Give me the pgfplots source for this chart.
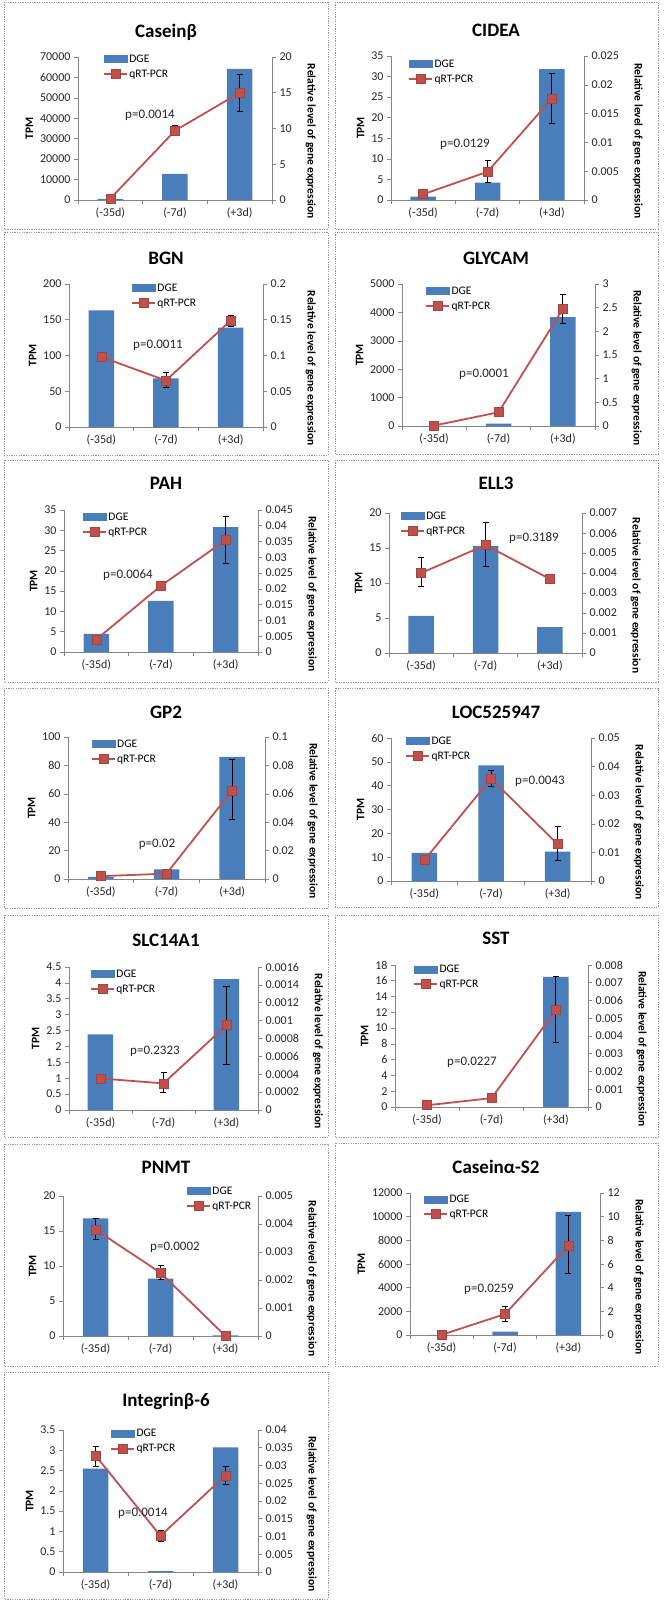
\documentclass[border=0pt]{standalone}
\usepackage{fontspec}
\setmainfont{Carlito}
\usepackage{pgfplots}
\pgfplotsset{compat=1.18}
\definecolor{barblue}{RGB}{74,126,187}
\definecolor{linered}{RGB}{192,80,77}
\definecolor{axisgray}{RGB}{134,134,134}
\definecolor{boxgray}{RGB}{150,150,150}

\pgfplotsset{
  panel/.style={scale only axis, anchor=south west, xmin=-0.5, xmax=2.5, ymin=0, clip=false,
    axis line style={axisgray, line width=0.6pt},
    tick style={axisgray, line width=0.6pt},
    tick align=outside, major tick length=4pt, minor tick length=4pt,
    tick label style={font=\fontsize{12}{14}\selectfont, text=black!85},
    scaled y ticks=false,
    yticklabel style={/pgf/number format/fixed, /pgf/number format/precision=4, /pgf/number format/1000 sep={}, /pgf/number format/assume math mode=true},
    label style={font=\fontsize{11.5}{13}\selectfont\bfseries, text=black},
  },
  barax/.style={panel, axis x line*=bottom, axis y line*=left,
    xtick={0,1,2}, xticklabels={(-35d),(-7d),(+3d)}, major x tick style={draw=none},
    minor xtick={-0.5,0.5,1.5,2.5},
    ylabel={TPM}},
  lineax/.style={panel, axis x line=none, axis y line*=right,
    ylabel={Relative level of gene expression},
    ylabel style={rotate=180, anchor=south, at={(ticklabel cs:0.41,7pt)}},
    legend cell align=left,
    legend style={draw=none, fill=none, anchor=north west, font=\fontsize{11.5}{13}\selectfont, nodes={inner sep=1.5pt}, row sep=3pt},
    legend image code/.code={\draw[mark repeat=2,mark phase=2,##1] plot coordinates {(0pt,0pt) (11.5pt,0pt) (23pt,0pt)};}},
  bars/.style={ybar, bar width=25.5pt, fill=barblue, draw=none},
  qline/.style={color=linered, line width=1.8pt, mark=square*, mark size=4.5pt, mark options={fill=linered, draw=linered!85!black, line width=0.6pt}},
  errs/.style={draw=none, mark=none, forget plot, error bars/.cd, y dir=both, y explicit, error bar style={draw=black, line width=0.8pt}, error mark options={rotate=90, draw=black, line width=0.8pt, mark size=3pt}},
  barleg/.style={legend image code/.code={\fill[barblue] (0pt,-3.5pt) rectangle (23pt,3.5pt);}},
}
\tikzset{
  ptitle/.style={font=\fontsize{19}{22}\selectfont\bfseries},
  pboxline/.style={boxgray, line width=0.6pt, dash pattern=on 1.2pt off 1.2pt},
}
\newcommand{\pbox}[7]{\draw[pboxline] (#1pt,-#2pt) rectangle (#3pt,-#4pt);\node[ptitle] at (#5pt,-#6pt) {#7};}
\newcommand{\pval}[3]{\node[font=\fontsize{13}{15}\selectfont, text=black!85] at (#1pt,-#2pt) {#3};}

\begin{document}
\begin{tikzpicture}
\useasboundingbox (0pt,0pt) rectangle (664pt,-1601pt);

% 1 Casein beta
\pbox{4}{2}{328}{229}{166}{32}{Caseinβ}
\begin{axis}[barax, at={(78pt,-200pt)}, width=194pt, height=143pt, ymax=70000, ytick={0,10000,20000,30000,40000,50000,60000,70000}]
\addplot[bars] coordinates {(0,600) (1,12800) (2,64200)};
\end{axis}
\begin{axis}[lineax, at={(78pt,-200pt)}, width=194pt, height=143pt, ymax=20, ytick={0,5,10,15,20}, legend style={at={(0.113,1.042)}}]
\addlegendimage{barleg}\addlegendentry{DGE}
\addplot[errs] coordinates {(1,9.7) += (0,0.7) -= (0,0.7) (2,15.0) += (0,2.5) -= (0,2.6)};
\addplot[qline] coordinates {(0,0.2) (1,9.7) (2,15.0)};
\addlegendentry{qRT-PCR}
\end{axis}
\pval{150}{115}{p=0.0014}

% 2 CIDEA
\pbox{335}{2}{658}{229}{496}{30}{CIDEA}
\begin{axis}[barax, at={(391pt,-200pt)}, width=193pt, height=144pt, ymax=35, ytick={0,5,10,15,20,25,30,35}]
\addplot[bars] coordinates {(0,0.8) (1,4.2) (2,31.8)};
\end{axis}
\begin{axis}[lineax, at={(391pt,-200pt)}, width=193pt, height=144pt, ymax=0.025, ytick={0,0.005,0.01,0.015,0.02,0.025}, legend style={at={(0.073,1.0)}}]
\addlegendimage{barleg}\addlegendentry{DGE}
\addplot[errs] coordinates {(1,0.0049) += (0,0.002) -= (0,0.0018) (2,0.0176) += (0,0.0043) -= (0,0.0043)};
\addplot[qline] coordinates {(0,0.001) (1,0.0049) (2,0.0176)};
\addlegendentry{qRT-PCR}
\end{axis}
\pval{465}{144}{p=0.0129}

% 3 BGN
\pbox{4}{232}{328}{455}{166}{258}{BGN}
\begin{axis}[barax, at={(69pt,-427pt)}, width=194pt, height=143pt, ymax=200, ytick={0,50,100,150,200}]
\addplot[bars] coordinates {(0,163) (1,68) (2,139)};
\end{axis}
\begin{axis}[lineax, at={(69pt,-427pt)}, width=194pt, height=143pt, ymax=0.2, ytick={0,0.05,0.1,0.15,0.2}, legend style={at={(0.304,1.028)}}]
\addlegendimage{barleg}\addlegendentry{DGE}
\addplot[errs] coordinates {(1,0.065) += (0,0.011) -= (0,0.009) (2,0.149) += (0,0.007) -= (0,0.008)};
\addplot[qline] coordinates {(0,0.098) (1,0.065) (2,0.149)};
\addlegendentry{qRT-PCR}
\end{axis}
\pval{158}{345}{p=0.0011}

% 4 GLYCAM
\pbox{335}{232}{658}{454}{496}{258}{GLYCAM}
\begin{axis}[barax, at={(402pt,-426pt)}, width=193pt, height=142pt, ymax=5000, ytick={0,1000,2000,3000,4000,5000}]
\addplot[bars] coordinates {(0,2) (1,80) (2,3830)};
\end{axis}
\begin{axis}[lineax, at={(402pt,-426pt)}, width=193pt, height=142pt, ymax=3, ytick={0,0.5,1,1.5,2,2.5,3}, legend style={at={(0.104,1.007)}}]
\addlegendimage{barleg}\addlegendentry{DGE}
\addplot[errs] coordinates {(2,2.47) += (0,0.32) -= (0,0.30)};
\addplot[qline] coordinates {(0,0.01) (1,0.29) (2,2.47)};
\addlegendentry{qRT-PCR}
\end{axis}
\pval{484}{374}{p=0.0001}

% 5 PAH
\pbox{4}{460}{328}{682}{166}{483}{PAH}
\begin{axis}[barax, at={(64pt,-652pt)}, width=194pt, height=142pt, ymax=35, ytick={0,5,10,15,20,25,30,35}]
\addplot[bars] coordinates {(0,4.5) (1,12.6) (2,30.8)};
\end{axis}
\begin{axis}[lineax, at={(64pt,-652pt)}, width=194pt, height=142pt, ymax=0.045, ytick={0,0.005,0.01,0.015,0.02,0.025,0.03,0.035,0.04,0.045}, legend style={at={(0.077,1.007)}}]
\addlegendimage{barleg}\addlegendentry{DGE}
\addplot[errs] coordinates {(2,0.0355) += (0,0.0074) -= (0,0.0075)};
\addplot[qline] coordinates {(0,0.004) (1,0.021) (2,0.0355)};
\addlegendentry{qRT-PCR}
\end{axis}
\pval{128}{575}{p=0.0064}

% 6 ELL3
\pbox{335}{460}{658}{682}{496}{483}{ELL3}
\begin{axis}[barax, at={(389pt,-653pt)}, width=193pt, height=140pt, ymax=20, ytick={0,5,10,15,20}]
\addplot[bars] coordinates {(0,5.3) (1,15.3) (2,3.7)};
\end{axis}
\begin{axis}[lineax, at={(389pt,-653pt)}, width=193pt, height=140pt, ymax=0.007, ytick={0,0.001,0.002,0.003,0.004,0.005,0.006,0.007}, legend style={at={(0.041,1.036)}}]
\addlegendimage{barleg}\addlegendentry{DGE}
\addplot[errs] coordinates {(0,0.004) += (0,0.0008) -= (0,0.00067) (1,0.0054) += (0,0.00113) -= (0,0.00109)};
\addplot[qline] coordinates {(0,0.004) (1,0.0054) (2,0.0037)};
\addlegendentry{qRT-PCR}
\end{axis}
\pval{534}{538}{p=0.3189}

% 7 GP2
\pbox{4}{688}{328}{908}{166}{712}{GP2}
\begin{axis}[barax, at={(68pt,-879pt)}, width=197pt, height=142pt, ymax=100, ytick={0,20,40,60,80,100}]
\addplot[bars] coordinates {(0,1.5) (1,6.8) (2,86)};
\end{axis}
\begin{axis}[lineax, at={(68pt,-879pt)}, width=197pt, height=142pt, ymax=0.1, ytick={0,0.02,0.04,0.06,0.08,0.1}, legend style={at={(0.10,1.007)}}]
\addlegendimage{barleg}\addlegendentry{DGE}
\addplot[errs] coordinates {(2,0.0624) += (0,0.0221) -= (0,0.0206)};
\addplot[qline] coordinates {(0,0.002) (1,0.0038) (2,0.0624)};
\addlegendentry{qRT-PCR}
\end{axis}
\pval{157}{844}{p=0.02}

% 8 LOC525947
\pbox{335}{688}{658}{907}{496}{712}{LOC525947}
\begin{axis}[barax, at={(391pt,-881pt)}, width=200pt, height=143pt, ymax=60, ytick={0,10,20,30,40,50,60}]
\addplot[bars] coordinates {(0,11.8) (1,48.5) (2,12.3)};
\end{axis}
\begin{axis}[lineax, at={(391pt,-881pt)}, width=200pt, height=143pt, ymax=0.05, ytick={0,0.01,0.02,0.03,0.04,0.05}, legend style={at={(0.055,1.035)}}]
\addlegendimage{barleg}\addlegendentry{DGE}
\addplot[errs] coordinates {(1,0.0358) += (0,0.003) -= (0,0.0027) (2,0.0129) += (0,0.0061) -= (0,0.0058)};
\addplot[qline] coordinates {(0,0.0073) (1,0.0358) (2,0.0129)};
\addlegendentry{qRT-PCR}
\end{axis}
\pval{540}{781}{p=0.0043}

% 9 SLC14A1
\pbox{4}{915}{328}{1137}{166}{940}{SLC14A1}
\begin{axis}[barax, at={(69pt,-1110pt)}, width=189pt, height=143pt, ymax=4.5, ytick={0,0.5,1,1.5,2,2.5,3,3.5,4,4.5}]
\addplot[bars] coordinates {(0,2.38) (1,0) (2,4.12)};
\end{axis}
\begin{axis}[lineax, at={(69pt,-1110pt)}, width=189pt, height=143pt, ymax=0.0016, ytick={0,0.0002,0.0004,0.0006,0.0008,0.001,0.0012,0.0014,0.0016}, legend style={at={(0.095,1.007)}}]
\addlegendimage{barleg}\addlegendentry{DGE}
\addplot[errs] coordinates {(1,0.000298) += (0,0.00012) -= (0,0.0001) (2,0.000949) += (0,0.000435) -= (0,0.000436)};
\addplot[qline] coordinates {(0,0.000353) (1,0.000298) (2,0.000949)};
\addlegendentry{qRT-PCR}
\end{axis}
\pval{155}{1051}{p=0.2323}

% 10 SST
\pbox{335}{915}{658}{1137}{496}{938}{SST}
\begin{axis}[barax, at={(395pt,-1107pt)}, width=193pt, height=142pt, ymax=18, ytick={0,2,4,6,8,10,12,14,16,18}]
\addplot[bars] coordinates {(0,0) (1,0) (2,16.5)};
\end{axis}
\begin{axis}[lineax, at={(395pt,-1107pt)}, width=193pt, height=142pt, ymax=0.008, ytick={0,0.001,0.002,0.003,0.004,0.005,0.006,0.007,0.008}, legend style={at={(0.078,1.028)}}]
\addlegendimage{barleg}\addlegendentry{DGE}
\addplot[errs] coordinates {(2,0.00546) += (0,0.0019) -= (0,0.0018)};
\addplot[qline] coordinates {(0,0.0001) (1,0.0005) (2,0.00546)};
\addlegendentry{qRT-PCR}
\end{axis}
\pval{472}{1062}{p=0.0227}

% 11 PNMT
\pbox{4}{1144}{328}{1366}{166}{1167}{PNMT}
\begin{axis}[barax, at={(63pt,-1336pt)}, width=195pt, height=140pt, ymax=20, ytick={0,5,10,15,20}]
\addplot[bars] coordinates {(0,16.8) (1,8.2) (2,0.1)};
\end{axis}
\begin{axis}[lineax, at={(63pt,-1336pt)}, width=195pt, height=140pt, ymax=0.005, ytick={0,0.001,0.002,0.003,0.004,0.005}, legend style={at={(0.615,1.093)}}]
\addlegendimage{barleg}\addlegendentry{DGE}
\addplot[errs] coordinates {(0,0.0038) += (0,0.0004) -= (0,0.00035) (1,0.00226) += (0,0.00025) -= (0,0.00024)};
\addplot[qline] coordinates {(0,0.0038) (1,0.00226) (2,0)};
\addlegendentry{qRT-PCR}
\end{axis}
\pval{175}{1247}{p=0.0002}

% 12 Casein alpha-S2
\pbox{335}{1143}{658}{1366}{496}{1167}{Caseinα-S2}
\begin{axis}[barax, at={(410pt,-1335pt)}, width=190pt, height=142pt, ymax=12000, ytick={0,2000,4000,6000,8000,10000,12000}]
\addplot[bars] coordinates {(0,20) (1,280) (2,10400)};
\end{axis}
\begin{axis}[lineax, at={(410pt,-1335pt)}, width=190pt, height=142pt, ymax=12, ytick={0,2,4,6,8,10,12}, legend style={at={(0.053,1.014)}}]
\addlegendimage{barleg}\addlegendentry{DGE}
\addplot[errs] coordinates {(1,1.77) += (0,0.62) -= (0,0.6) (2,7.55) += (0,2.55) -= (0,2.35)};
\addplot[qline] coordinates {(0,0.02) (1,1.77) (2,7.55)};
\addlegendentry{qRT-PCR}
\end{axis}
\pval{489}{1289}{p=0.0259}

% 13 Integrin beta-6
\pbox{4}{1372}{328}{1599}{166}{1401}{Integrinβ-6}
\begin{axis}[barax, at={(63pt,-1572pt)}, width=195pt, height=142pt, ymax=3.5, ytick={0,0.5,1,1.5,2,2.5,3,3.5}]
\addplot[bars] coordinates {(0,2.55) (1,0.02) (2,3.07)};
\end{axis}
\begin{axis}[lineax, at={(63pt,-1572pt)}, width=195pt, height=142pt, ymax=0.04, ytick={0,0.005,0.01,0.015,0.02,0.025,0.03,0.035,0.04}, legend style={at={(0.226,1.03)}}]
\addlegendimage{barleg}\addlegendentry{DGE}
\addplot[errs] coordinates {(0,0.0328) += (0,0.0027) -= (0,0.003) (1,0.0102) += (0,0.0016) -= (0,0.0016) (2,0.0272) += (0,0.0026) -= (0,0.0024)};
\addplot[qline] coordinates {(0,0.0328) (1,0.0102) (2,0.0272)};
\addlegendentry{qRT-PCR}
\end{axis}
\pval{143}{1513}{p=0.0014}

\end{tikzpicture}
\end{document}
